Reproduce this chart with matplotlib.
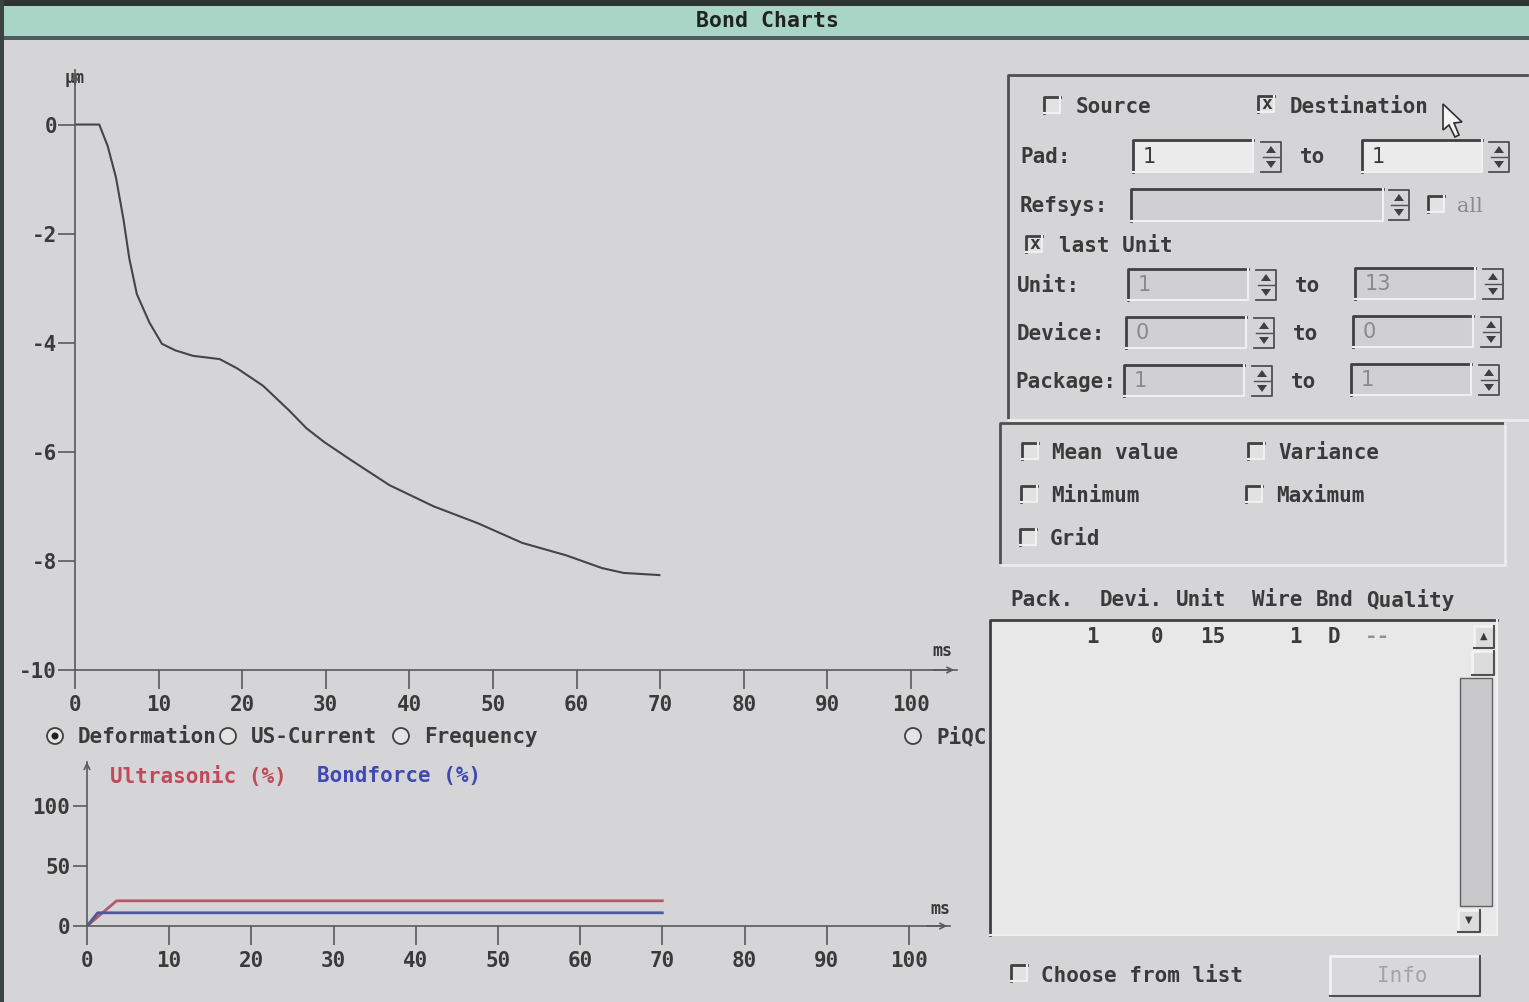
import numpy as np
import matplotlib.pyplot as plt
from matplotlib.patches import Rectangle, Polygon, Circle

plt.rcParams['axes.unicode_minus'] = False

W, H = 1529, 1002

# deformation curve (ms, um)
t_def = [0, 2.9, 3.9, 4.9, 5.8, 6.5, 7.4, 8.9, 10.4, 12.0, 14.1, 17.3, 19.4,
         22.5, 25.6, 27.7, 29.8, 33.0, 37.6, 42.9, 48.2, 53.5, 58.8, 63.0,
         65.6, 69.9]
deform = [0, 0, -0.39, -0.97, -1.74, -2.46, -3.11, -3.63, -4.02, -4.14,
          -4.24, -4.30, -4.47, -4.79, -5.24, -5.57, -5.82, -6.15, -6.61,
          -7.00, -7.31, -7.67, -7.90, -8.13, -8.22, -8.26]

# lower chart (%)
t_us = [0, 3.6, 70]
ultrasonic = [0, 21, 21]
t_bf = [0, 1.3, 70]
bondforce = [0, 11, 11]

def_yticks = [0, -2, -4, -6, -8, -10]
ms_ticks = list(range(0, 101, 10))
pct_ticks = [0, 50, 100]

BG = '#d5d5d7'
DARK = '#3a3a3a'
MONO = 'DejaVu Sans Mono'

fig = plt.figure(figsize=(W / 100, H / 100), dpi=100)
fig.patch.set_facecolor(BG)

# pixel-space layer for the window decoration
ui = fig.add_axes([0, 0, 1, 1], zorder=0)
ui.set_xlim(0, W)
ui.set_ylim(H, 0)
ui.axis('off')


def txt(x, y, s, size=15, color=DARK, ha='left', family=MONO, weight='bold'):
    ui.text(x, y, s, fontsize=size, color=color, ha=ha, va='center',
            family=family, fontweight=weight)


def sunken(x0, y0, x1, y1, face=BG, raised=False):
    ui.add_patch(Rectangle((x0, y0), x1 - x0, y1 - y0, facecolor=face,
                           edgecolor='none'))
    hi, lo = ('#f2f2f2', '#505050') if raised else ('#404040', '#f0f0f0')
    ui.plot([x0, x0, x1], [y1, y0, y0], color=hi, lw=2)
    ui.plot([x0, x1, x1], [y1, y1, y0], color=lo, lw=1.5)


def checkbox(x, y, checked=False):
    sunken(x - 8, y - 8, x + 8, y + 8, face='#e2e2e2')
    if checked:
        ui.text(x + 1, y, 'x', fontsize=13, ha='center', va='center',
                family=MONO, fontweight='bold', color=DARK)


def spin(x, y):
    ui.plot([x - 10, x + 10, x + 10, x - 10], [y - 15, y - 15, y + 15, y + 15],
            color='#505050', lw=1.3)
    ui.plot([x - 8, x + 8], [y, y], color='#505050', lw=1)
    ui.add_patch(Polygon([[x - 5, y - 4], [x + 5, y - 4], [x, y - 11]],
                         closed=True, facecolor='#404040', edgecolor='none'))
    ui.add_patch(Polygon([[x - 5, y + 4], [x + 5, y + 4], [x, y + 11]],
                         closed=True, facecolor='#404040', edgecolor='none'))


def radio(x, y, on=False):
    ui.add_patch(Circle((x, y), 8, facecolor='#e4e4e4', edgecolor='#404040',
                        lw=1.3))
    if on:
        ui.add_patch(Circle((x, y), 3.5, facecolor='#202020'))


# window frame and title bar
ui.add_patch(Rectangle((0, 0), W, 6, facecolor='#2c3434'))
ui.add_patch(Rectangle((0, 6), W, 31, facecolor='#a9d5c7'))
ui.add_patch(Rectangle((0, 36), W, 4, facecolor='#4c5c5a'))
ui.add_patch(Rectangle((0, 0), 4, H, facecolor='#3a4242'))
txt(768, 21, 'Bond Charts', size=15.5, ha='center', color='#1e2424')

# units and radio buttons around the charts
txt(65, 78, 'µm', size=12)
txt(932, 651, 'ms', size=12)
txt(930, 909, 'ms', size=12)
for cx, label, on in [(55, 'Deformation', True), (228, 'US-Current', False),
                      (401, 'Frequency', False), (913, 'PiQC', False)]:
    radio(cx, 736, on)
    txt(cx + 23, 737, label)
txt(110, 776, 'Ultrasonic (%)', color='#c04a5a')
txt(317, 776, 'Bondforce (%)', color='#4048b4')

# right panel, first group
ui.plot([1008, 1008, 1527], [420, 75, 75], color='#505050', lw=2)
ui.plot([1008, 1527], [420, 420], color='#ececec', lw=2)
checkbox(1052, 105)
txt(1076, 107, 'Source')
checkbox(1266, 104, True)
txt(1290, 107, 'Destination')

txt(1020, 157, 'Pad:')
sunken(1133, 140, 1253, 172, face='#ebebeb')
txt(1143, 157, '1', family='DejaVu Sans', weight='normal')
spin(1271, 157)
txt(1300, 157, 'to')
sunken(1362, 140, 1482, 172, face='#ebebeb')
txt(1372, 157, '1', family='DejaVu Sans', weight='normal')
spin(1499, 157)

txt(1020, 206, 'Refsys:')
sunken(1131, 189, 1383, 221, face='#d0d0d2')
spin(1399, 205)
checkbox(1436, 204)
txt(1457, 206, 'all', color='#8c8c8c', family='DejaVu Serif', weight='normal')

checkbox(1034, 244, True)
txt(1059, 246, 'last Unit')

rows = [('Unit:', 1017, 286, '1', '13'),
        ('Device:', 1017, 334, '0', '0'),
        ('Package:', 1015, 382, '1', '1')]
for i, (lab, lx, yy, v1, v2) in enumerate(rows):
    dx = -2 * i
    txt(lx, yy, lab)
    sunken(1128 + dx, yy - 17, 1248 + dx, yy + 14, face='#d0d0d2')
    txt(1138 + dx, yy - 1, v1, color='#8a8a8a', family='DejaVu Sans',
        weight='normal')
    spin(1266 + dx, yy - 1)
    txt(1295 + dx, yy, 'to')
    sunken(1355 + dx, yy - 18, 1475 + dx, yy + 13, face='#d0d0d2')
    txt(1365 + dx, yy - 2, v2, color='#8a8a8a', family='DejaVu Sans',
        weight='normal')
    spin(1493 + dx, yy - 2)

# second group
ui.plot([1000, 1000, 1505], [565, 423, 423], color='#505050', lw=2)
ui.plot([1000, 1505, 1505], [565, 565, 423], color='#ececec', lw=2)
for cx, cy, label in [(1030, 451, 'Mean value'), (1256, 451, 'Variance'),
                      (1029, 494, 'Minimum'), (1254, 494, 'Maximum'),
                      (1028, 537, 'Grid')]:
    checkbox(cx, cy)
    txt(cx + 22, cy + 2, label)

# list box
for hx, h in [(1010, 'Pack.'), (1100, 'Devi.'), (1176, 'Unit'),
              (1252, 'Wire'), (1316, 'Bnd'), (1366, 'Quality')]:
    txt(hx, 600, h)
sunken(990, 620, 1497, 935, face='#e8e8e8')
sunken(1474, 626, 1494, 648, face='#dcdcdc', raised=True)
ui.text(1484, 636, '▲', fontsize=7, ha='center', va='center', color=DARK)
sunken(1472, 651, 1494, 675, face='#dcdcdc', raised=True)
ui.add_patch(Rectangle((1460, 678), 32, 228, facecolor='#c9c9cb',
                       edgecolor='#606060', lw=1))
sunken(1458, 910, 1480, 932, face='#dcdcdc', raised=True)
ui.text(1469, 920, '▼', fontsize=7, ha='center', va='center', color=DARK)
for vx, v, c in [(1092, '1', DARK), (1157, '0', DARK), (1213, '15', DARK),
                 (1295, '1', DARK), (1334, 'D', DARK), (1378, '--', '#909090')]:
    txt(vx, 637, v, ha='center', color=c)

checkbox(1019, 973)
txt(1041, 976, 'Choose from list')
sunken(1330, 956, 1480, 996, face='#d8d8da', raised=True)
txt(1402, 976, 'Info', ha='center', color='#a4a4a4', weight='normal')

# mouse pointer
ui.add_patch(Polygon([[1443, 104], [1443, 130], [1449, 125], [1455, 137],
                      [1459, 135], [1454, 123], [1462, 122]], closed=True,
                     facecolor='#f4f4f4', edgecolor='#303030', lw=1.2))


def style_axes(ax):
    ax.set_facecolor('none')
    for s in ('top', 'right'):
        ax.spines[s].set_visible(False)
    for s in ('left', 'bottom'):
        ax.spines[s].set_color('#5a5a5a')
        ax.spines[s].set_linewidth(1.2)
    ax.tick_params(colors='#5a5a5a', width=1.2, labelcolor=DARK,
                   labelsize=15)
    for lab in ax.get_xticklabels() + ax.get_yticklabels():
        lab.set_family(MONO)
        lab.set_fontweight('bold')
    ax.annotate('', xy=(1, 0), xycoords='axes fraction', xytext=(0.97, 0),
                arrowprops=dict(arrowstyle='->', color='#5a5a5a', lw=1.2))
    ax.annotate('', xy=(0, 1), xycoords='axes fraction', xytext=(0, 0.97),
                arrowprops=dict(arrowstyle='->', color='#5a5a5a', lw=1.2))


# deformation chart: x 0..105.5 ms -> px 75..957, y 1..-10 -> px 70..670
ax = fig.add_axes([75 / W, 1 - 670 / H, 882 / W, 600 / H], zorder=1)
ax.plot(t_def, deform, color='#454545', lw=1.5)
ax.set_xlim(0, 105.5)
ax.set_ylim(-10, 1.0)
ax.set_xticks(ms_ticks)
ax.set_yticks(def_yticks)
ax.tick_params(axis='x', direction='out', length=14, pad=4)
ax.tick_params(axis='y', direction='out', length=12, pad=1)
style_axes(ax)

# ultrasonic / bondforce chart: x 0..105 -> px 87..950, y 0..136 -> px 926..762
ax2 = fig.add_axes([87 / W, 1 - 926 / H, 863 / W, 164 / H], zorder=1)
ax2.plot(t_us, ultrasonic, color='#b25a6a', lw=2)
ax2.plot(t_bf, bondforce, color='#4c5a9c', lw=2)
ax2.set_xlim(0, 105)
ax2.set_ylim(0, 136.7)
ax2.set_xticks(ms_ticks)
ax2.set_yticks(pct_ticks)
ax2.tick_params(axis='x', direction='out', length=14, pad=4)
ax2.tick_params(axis='y', direction='out', length=10, pad=2)
style_axes(ax2)

fig.savefig('out.png', dpi=100, facecolor=BG)
